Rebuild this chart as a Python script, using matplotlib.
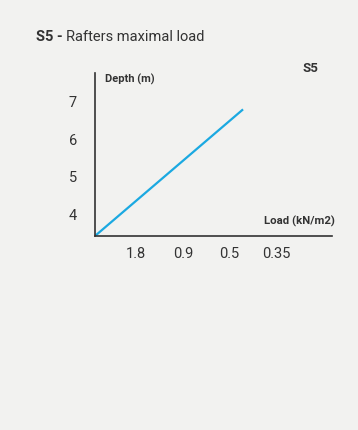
import matplotlib
matplotlib.use("Agg")
import matplotlib.pyplot as plt

# data
loads = ["1.8", "0.9", "0.5", "0.35"]
load_pos = [1, 2, 3, 4]
depth_ticks = [4, 5, 6, 7]
line_x = [0.12, 3.29]
line_depth = [3.41, 6.8]

bg = "#f2f2f0"
txt = "#333333"
plt.rcParams["font.family"] = ["Roboto", "DejaVu Sans"]

fig = plt.figure(figsize=(3.58, 4.30), dpi=100, facecolor=bg)
ax = fig.add_axes([0.265, 0.451, 0.662, 0.379], facecolor=bg)

ax.plot(line_x, line_depth, color="#1ba9e1", lw=1.6, solid_capstyle="butt")

ax.set_xlim(0.12, 5.19)
ax.set_ylim(3.41, 7.77)
ax.set_xticks(load_pos)
ax.set_xticklabels(loads)
ax.set_yticks(depth_ticks)
ax.tick_params(length=0, labelsize=10.5, colors=txt, pad=8)
ax.tick_params(axis="y", pad=13)

for s in ["top", "right"]:
    ax.spines[s].set_visible(False)
for s in ["left", "bottom"]:
    ax.spines[s].set_color(txt)
    ax.spines[s].set_linewidth(1.2)

# axis titles
fig.text(105 / 358, 1 - 79 / 430, "Depth (m)", fontsize=8, fontweight="bold",
         color=txt, ha="left", va="center")
fig.text(335 / 358, 1 - 221 / 430, "Load (kN/m2)", fontsize=8.2, fontweight="bold",
         color=txt, ha="right", va="center")
fig.text(318 / 358, 1 - 69 / 430, "S5", fontsize=9.5, fontweight="bold",
         color=txt, ha="right", va="center")

# title
t = fig.text(36 / 358, 1 - 37 / 430, "S5 - ", fontsize=10.5, fontweight="bold",
             color=txt, ha="left", va="center")
fig.canvas.draw()
bb = t.get_window_extent()
fig.text(bb.x1 / fig.bbox.width, 1 - 37 / 430, "Rafters maximal load",
         fontsize=10.5, color=txt, ha="left", va="center")

fig.savefig("out.png", dpi=100, facecolor=bg)
